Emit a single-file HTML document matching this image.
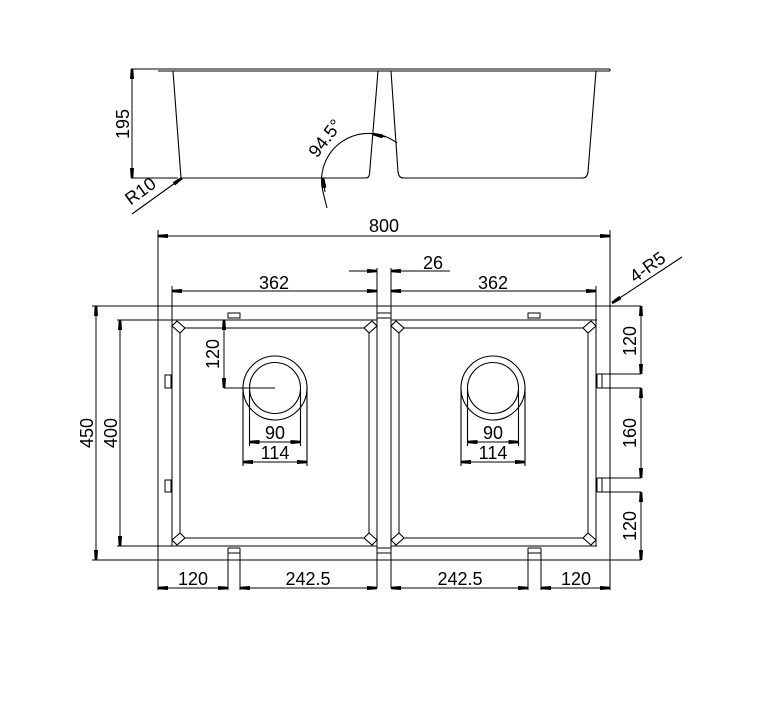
<!DOCTYPE html>
<html><head><meta charset="utf-8"><style>
html,body{margin:0;padding:0;background:#fff;}
svg{display:block;}
text{font-family:"Liberation Sans",sans-serif;font-size:18px;fill:#000;}
</style></head><body>
<svg width="765" height="708" viewBox="0 0 765 708" xmlns="http://www.w3.org/2000/svg">
<defs>
<marker id="a" viewBox="0 0 10 5" refX="10" refY="2.5" markerWidth="10" markerHeight="5" markerUnits="userSpaceOnUse" orient="auto-start-reverse"><path d="M0,0.5 L10,1.2 L10,3.8 L0,4.5 Z" fill="#000"/></marker>
</defs>
<g fill="none" stroke="#000" stroke-width="1" shape-rendering="crispEdges">
<!-- TOP VIEW -->
<line x1="131" y1="69" x2="610" y2="69"/>
<line x1="158" y1="71" x2="610" y2="71"/>
<line x1="610" y1="69" x2="610" y2="71"/>
<line x1="131" y1="178" x2="178" y2="178"/>
<line x1="132" y1="69" x2="132" y2="178" marker-start="url(#a)" marker-end="url(#a)"/>
<!-- 800 -->
<line x1="158" y1="230" x2="158" y2="590"/>
<line x1="610" y1="230" x2="610" y2="590"/>
<line x1="158" y1="236" x2="610" y2="236" marker-start="url(#a)" marker-end="url(#a)"/>
<line x1="172" y1="286" x2="172" y2="320"/>
<line x1="596" y1="286" x2="596" y2="320"/>
<line x1="172" y1="291" x2="377" y2="291" marker-start="url(#a)" marker-end="url(#a)"/>
<line x1="391" y1="291" x2="596" y2="291" marker-start="url(#a)" marker-end="url(#a)"/>
<line x1="349" y1="271" x2="377" y2="271" marker-end="url(#a)"/>
<line x1="450" y1="271" x2="391" y2="271" marker-end="url(#a)"/>
<line x1="377" y1="268" x2="377" y2="588"/>
<line x1="391" y1="268" x2="391" y2="588"/>
<line x1="377" y1="313" x2="391" y2="313"/>
<line x1="377" y1="318" x2="391" y2="318"/>
<line x1="92" y1="306" x2="610" y2="306"/>
<line x1="117" y1="320" x2="377" y2="320"/>
<line x1="391" y1="320" x2="597" y2="320"/>
<line x1="117" y1="546" x2="377" y2="546"/>
<line x1="391" y1="546" x2="597" y2="546"/>
<line x1="92" y1="560" x2="641" y2="560"/>
<line x1="610" y1="306" x2="641" y2="306"/>
<line x1="96" y1="306" x2="96" y2="560" marker-start="url(#a)" marker-end="url(#a)"/>
<line x1="120" y1="320" x2="120" y2="546" marker-start="url(#a)" marker-end="url(#a)"/>
<g id="bowlL">
<line x1="172" y1="320" x2="172" y2="546"/>
<line x1="377" y1="320" x2="377" y2="546"/>
<path d="M185,328 L364,328 M180,333 L180,533 M185,538 L364,538 M369,333 L369,533"/>
</g>
<use href="#bowlL" transform="translate(219,0)"/>
<rect x="165" y="375" width="6" height="13"/>
<rect x="165" y="480" width="6" height="12"/>
<rect x="228" y="313" width="12" height="5"/>
<rect x="528" y="313" width="12" height="5"/>
<line x1="224" y1="388" x2="275" y2="388"/>
<line x1="224" y1="320" x2="224" y2="388" marker-start="url(#a)" marker-end="url(#a)"/>
<path d="M597,374 L641,374 M597,388 L641,388 M597,374 L597,388 M602,374 L602,388"/>
<path d="M597,478 L641,478 M597,492 L641,492 M597,478 L597,492 M602,478 L602,492"/>
<line x1="641" y1="306" x2="641" y2="374" marker-start="url(#a)" marker-end="url(#a)"/>
<line x1="641" y1="388" x2="641" y2="478" marker-start="url(#a)" marker-end="url(#a)"/>
<line x1="641" y1="492" x2="641" y2="560" marker-start="url(#a)" marker-end="url(#a)"/>
<path d="M228,548 L240,548 M228,553 L240,553 M228,548 L228,590 M240,548 L240,590"/>
<path d="M528,548 L541,548 M528,553 L541,553 M528,548 L528,590 M541,548 L541,590"/>
<path d="M377,548 L391,548 M377,553 L391,553"/>
<line x1="158" y1="588" x2="228" y2="588" marker-start="url(#a)" marker-end="url(#a)"/>
<line x1="240" y1="588" x2="377" y2="588" marker-start="url(#a)" marker-end="url(#a)"/>
<line x1="391" y1="588" x2="528" y2="588" marker-start="url(#a)" marker-end="url(#a)"/>
<line x1="541" y1="588" x2="610" y2="588" marker-start="url(#a)" marker-end="url(#a)"/>
</g>
<g fill="none" stroke="#000" stroke-width="1.1">
<path d="M173,71 L181,178 L366,178 Q369,178 369.5,174 L378,71"/>
<path d="M391,71 L398,172 Q399,178 403,178 L583,178 Q587,178 588,172 L596,71"/>
<line x1="132" y1="214" x2="182" y2="178" marker-end="url(#a)"/>
<path d="M327,208 L323,192 A47,47 0 0 1 397,143"/>
<line x1="325" y1="192" x2="323" y2="178" marker-end="url(#a)"/>
<line x1="385" y1="137" x2="373" y2="134" marker-end="url(#a)"/>
<g id="corn">
<path d="M172,326 L177,321 L185,328 L180,333 Z"/>
<path d="M377,326 L372,321 L364,328 L369,333 Z"/>
<path d="M172,540 L177,545 L185,538 L180,533 Z"/>
<path d="M377,540 L372,545 L364,538 L369,533 Z"/>
</g>
<use href="#corn" transform="translate(219,0)"/>
<g id="drain">
<circle cx="275" cy="388" r="32"/>
<circle cx="275" cy="388" r="25.5"/>
<line x1="243" y1="388" x2="243" y2="466"/>
<line x1="307" y1="388" x2="307" y2="466"/>
<line x1="249.5" y1="390" x2="249.5" y2="446"/>
<line x1="300.5" y1="390" x2="300.5" y2="446"/>
<line x1="249.5" y1="442" x2="300.5" y2="442" marker-start="url(#a)" marker-end="url(#a)"/>
<line x1="243" y1="462" x2="307" y2="462" marker-start="url(#a)" marker-end="url(#a)"/>
</g>
<use href="#drain" transform="translate(218,0)"/>
<line x1="612" y1="303" x2="682" y2="257" marker-start="url(#a)"/>
</g>
<text x="124" y="124" text-anchor="middle" transform="rotate(-90 124 124)" dominant-baseline="middle">195</text>
<text x="144" y="196" text-anchor="middle" transform="rotate(-36 144 196)">R10</text>
<text x="330" y="142" text-anchor="middle" transform="rotate(-52 330 142)">94.5°</text>
<text x="384" y="232" text-anchor="middle">800</text>
<text x="433" y="269" text-anchor="middle">26</text>
<text x="274" y="289" text-anchor="middle">362</text>
<text x="493" y="289" text-anchor="middle">362</text>
<text x="651" y="272" text-anchor="middle" transform="rotate(-35 651 272)">4-R5</text>
<text x="214" y="354" text-anchor="middle" dominant-baseline="middle" transform="rotate(-90 214 354)">120</text>
<text x="275" y="439" text-anchor="middle">90</text>
<text x="275" y="459" text-anchor="middle">114</text>
<text x="493" y="439" text-anchor="middle">90</text>
<text x="493" y="459" text-anchor="middle">114</text>
<text x="88" y="433" text-anchor="middle" dominant-baseline="middle" transform="rotate(-90 88 433)">450</text>
<text x="112" y="433" text-anchor="middle" dominant-baseline="middle" transform="rotate(-90 112 433)">400</text>
<text x="631" y="341" text-anchor="middle" dominant-baseline="middle" transform="rotate(-90 631 341)">120</text>
<text x="631" y="433" text-anchor="middle" dominant-baseline="middle" transform="rotate(-90 631 433)">160</text>
<text x="631" y="526" text-anchor="middle" dominant-baseline="middle" transform="rotate(-90 631 526)">120</text>
<text x="193" y="585" text-anchor="middle">120</text>
<text x="308" y="585" text-anchor="middle">242.5</text>
<text x="460" y="585" text-anchor="middle">242.5</text>
<text x="576" y="585" text-anchor="middle">120</text>
</svg>
</body></html>
